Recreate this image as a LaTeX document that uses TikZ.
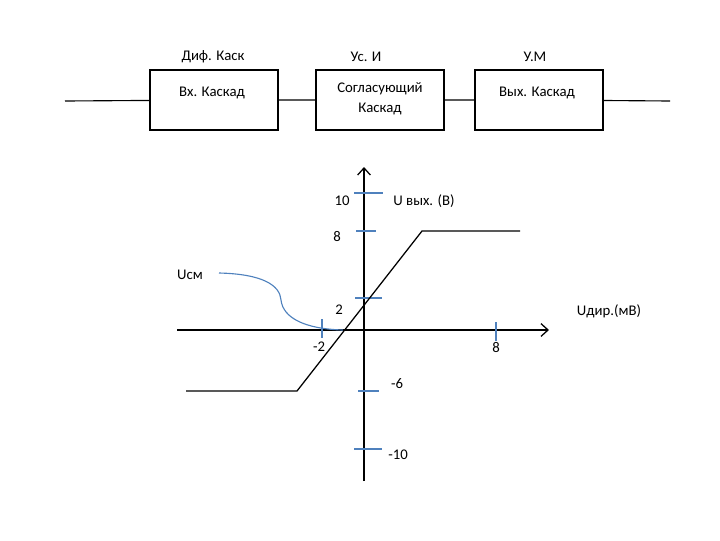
\documentclass[tikz,border=0pt]{standalone}
\usepackage{fontspec}
\setmainfont{Carlito}
\usetikzlibrary{arrows.meta}
\definecolor{tickblue}{RGB}{79,129,189}
\begin{document}
\begin{tikzpicture}[
	x=0.025cm, y=-0.025cm,
	box/.style={ draw, line width=1.4pt, minimum width=3.2cm, minimum height=1.5cm, inner sep=0pt },
	txt/.style={ font=\fontsize{10.5}{12}\selectfont, inner sep=1pt, align=center },
	tick/.style={ tickblue, line width=0.9pt },
	axis/.style={ line width=0.9pt, -{Straight Barb[length=5pt,width=9pt]} },
	graph/.style={ line width=0.9pt }
]

\useasboundingbox (0,0) rectangle (720,540);

\coordinate (in) at (65,101);
\coordinate (out) at (670,101);
\node at (214,100) (vx) [box] {};
\node at (380,100) (sk) [box] {};
\node at (539,100) (vyx) [box] {};
\node at (212,93) [txt] {Вх. Каскад};
\node at (380,99) [txt] {Согласующий\\[2pt]Каскад};
\node at (537,93) [txt] {Вых. Каскад};
\node at (213,57) [txt] {Диф. Каск};
\node at (366,57) [txt] {Ус. И};
\node at (535,57) [txt] {У.М};
\draw[line width=0.8pt] (in) -- (vx) -- (sk) -- (vyx) -- (out);

\coordinate (xl) at (177,330);
\coordinate (xr) at (549,330);
\coordinate (yb) at (364,481);
\coordinate (yt) at (364,167);
\draw[axis] (xl) -- (xr);
\draw[axis] (yb) -- (yt);

\foreach \y/\a/\b in {193/354/383, 231/356/376, 298/355/382, 391/358/379, 449/354/382}
	\draw[tick] (\a,\y) -- (\b,\y);
\foreach \x/\a/\b in {322/319/338, 496/322/341}
	\draw[tick] (\x,\a) -- (\x,\b);

\node at (342,201) [txt] {10};
\node at (337,237) [txt] {8};
\node at (339,310) [txt] {2};
\node at (397,384) [txt] {-6};
\node at (398,455) [txt] {-10};
\node at (319,347) [txt] {-2};
\node at (496,348) [txt] {8};
\node at (424,201) [txt] {U вых. (В)};
\node at (609,311) [txt] {Uдир.(мВ)};
\node at (190,275) (ucm) [txt] {Uсм};

\draw[graph] (186,391) -- (297,391) -- (422,231) -- (520,231);
\draw[tickblue, line width=0.8pt] (219,273) .. controls (262,274) and (280,285) .. (281,300)
	.. controls (283,318) and (305,329) .. (343,330);

\end{tikzpicture}
\end{document}
